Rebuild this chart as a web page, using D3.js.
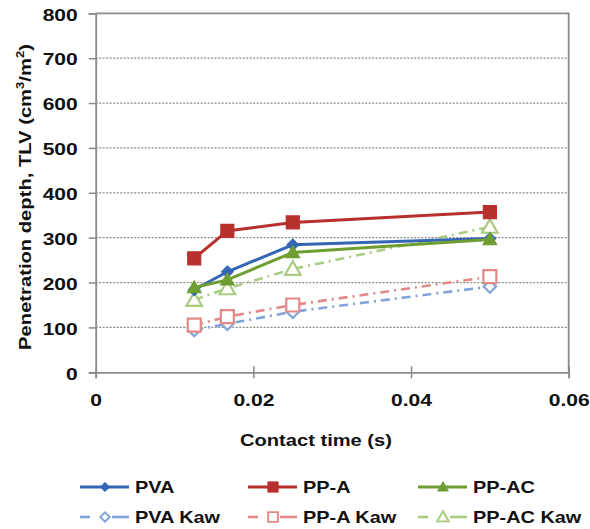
<!DOCTYPE html>
<html><head><meta charset="utf-8">
<script src="https://cdn.jsdelivr.net/npm/d3@7"></script>
<style>body{margin:0;background:#fff}svg{display:block}text{font-family:"Liberation Sans",Arial,sans-serif;font-weight:bold;fill:#111}</style>
</head><body><svg id="c" width="590" height="529"></svg>
<script>
const contactTime = [0.0125, 0.0167, 0.025, 0.05];
const PVA = [184, 224, 284, 298];
const PPA = [254, 315, 334, 357];
const PPAC = [189, 206, 267, 296];
const PVAKaw = [94, 108, 135, 191];
const PPAKaw = [105, 124, 150, 213];
const PPACKaw = [161, 187, 230, 324];
const xTicks = [0, 0.02, 0.04, 0.06];
const yTicks = [0, 100, 200, 300, 400, 500, 600, 700, 800];
const seriesNames = ["PVA", "PP-A", "PP-AC", "PVA Kaw", "PP-A Kaw", "PP-AC Kaw"];

const series = [
  {name: seriesNames[0], vals: PVA, color: "#3466B5", marker: "diamond", fill: true, dash: null},
  {name: seriesNames[1], vals: PPA, color: "#B8302E", marker: "square", fill: true, dash: null},
  {name: seriesNames[2], vals: PPAC, color: "#6E9E32", marker: "triangle", fill: true, dash: null},
  {name: seriesNames[3], vals: PVAKaw, color: "#7FA4DC", marker: "diamond", fill: false, dash: "9,5,2,5"},
  {name: seriesNames[4], vals: PPAKaw, color: "#E28A88", marker: "square", fill: false, dash: "9,5,2,5"},
  {name: seriesNames[5], vals: PPACKaw, color: "#A9CC80", marker: "triangle", fill: false, dash: "9,5,2,5"}
];

const svg = d3.select("#c");
const L = 95.7, R = 568.7, T = 13.3, B = 372.3;
const x = d3.scaleLinear().domain([0, 0.06]).range([L, R]);
const y = d3.scaleLinear().domain([0, 800]).range([B, T]);

// horizontally stretch a text node to a target width (about its anchor)
function stretch(textSel, target) {
  textSel.each(function() {
    const w = this.getComputedTextLength();
    const sx = target / w;
    const ax = +this.getAttribute("x") || 0;
    const ay = +this.getAttribute("y") || 0;
    d3.select(this).attr("transform", `translate(${ax},${ay}) scale(${sx},1) translate(${-ax},${-ay})`);
  });
}

// gridlines
svg.append("g").selectAll("line").data(yTicks.filter(d => d > 0 && d < 800)).join("line")
  .attr("x1", L).attr("x2", R).attr("y1", d => y(d)).attr("y2", d => y(d))
  .attr("stroke", "#8a8a8a").attr("stroke-width", 1.3).attr("stroke-dasharray", "2,1.5");

// plot border top & right
svg.append("path").attr("d", `M${L},${T}H${R}V${B}`).attr("fill", "none")
  .attr("stroke", "#8a8a8a").attr("stroke-width", 1.8);

// y axis
const yAxis = svg.append("g").attr("transform", `translate(${L},0)`)
  .call(d3.axisLeft(y).tickValues(yTicks).tickSize(7).tickPadding(11).tickFormat(d3.format("d")));
yAxis.select(".domain").attr("stroke", "#8a8a8a").attr("stroke-width", 1.8);
yAxis.selectAll(".tick line").attr("stroke", "#8a8a8a").attr("stroke-width", 1.5);
yAxis.selectAll("text").style("font-size", "16px").style("font-family", "Liberation Sans, Arial, sans-serif")
  .attr("fill", "#111").attr("dy", "0.42em")
  .each(function(d) { stretch(d3.select(this), String(d).length * 11.7); });

// x axis
const xAxis = svg.append("g").attr("transform", `translate(0,${B})`)
  .call(d3.axisBottom(x).tickValues(xTicks).tickSize(6).tickPadding(16).tickFormat(d => d === 0 ? "0" : d3.format(".2f")(d)));
xAxis.select(".domain").attr("stroke", "#8a8a8a").attr("stroke-width", 1.8);
xAxis.selectAll(".tick line").attr("stroke", "#8a8a8a").attr("stroke-width", 1.5).attr("y1", -6);
xAxis.selectAll("text").style("font-size", "16px").style("font-family", "Liberation Sans, Arial, sans-serif")
  .attr("fill", "#111")
  .each(function(d) { stretch(d3.select(this), d === 0 ? 11.7 : 41); });

// axis titles
const xt = svg.append("text").attr("x", 316).attr("y", 446).attr("text-anchor", "middle")
  .style("font-size", "17px").text("Contact time (s)");
stretch(xt, 152);

const ytg = svg.append("g").attr("transform", "translate(31,197) rotate(-90)");
const yt = ytg.append("text").attr("x", 0).attr("y", 0).attr("text-anchor", "middle").style("font-size", "17px");
yt.append("tspan").text("Penetration depth, TLV (cm");
yt.append("tspan").attr("dy", -7).style("font-size", "11px").text("3");
yt.append("tspan").attr("dy", 7).text("/m");
yt.append("tspan").attr("dy", -7).style("font-size", "11px").text("2");
yt.append("tspan").attr("dy", 7).text(")");
{
  const w = yt.node().getComputedTextLength();
  yt.attr("transform", `scale(${306 / w},1)`);
}

function markerPath(type, filled) {
  if (type === "diamond") { const s = filled ? 5.8 : 6.2; return `M0,${-s}L${s},0L0,${s}L${-s},0Z`; }
  if (type === "square") { const s = 6.5; return `M${-s},${-s}H${s}V${s}H${-s}Z`; }
  const s = filled ? 6.8 : 7.8;
  return `M0,${-s}L${s},${s*0.75}H${-s}Z`;
}

const line = d3.line().x(d => x(d[0])).y(d => y(d[1]));
const order = [3, 4, 5, 0, 2, 1];
order.forEach(i => {
  const s = series[i];
  const pts = contactTime.map((t, j) => [t, s.vals[j]]);
  svg.append("path").datum(pts).attr("d", line).attr("fill", "none")
    .attr("stroke", s.color).attr("stroke-width", s.fill ? 3 : 2.6)
    .attr("stroke-dasharray", s.dash);
  svg.append("g").selectAll("path").data(pts).join("path")
    .attr("transform", d => `translate(${x(d[0])},${y(d[1])})`)
    .attr("d", markerPath(s.marker, s.fill))
    .attr("fill", s.fill ? s.color : "#fff")
    .attr("stroke", s.color).attr("stroke-width", s.fill ? 1.2 : 2.2);
});

// legend
const legX = [80, 248, 418];
const legY = [487, 517];
series.forEach((s, i) => {
  const col = i % 3, row = Math.floor(i / 3);
  const g = svg.append("g").attr("transform", `translate(${legX[col]},${legY[row]})`);
  if (s.fill) {
    g.append("line").attr("x1", 0).attr("x2", 49).attr("stroke", s.color).attr("stroke-width", 3);
  } else {
    g.append("line").attr("x1", 0).attr("x2", 10).attr("stroke", s.color).attr("stroke-width", 2.6);
    g.append("line").attr("x1", 32).attr("x2", 49).attr("stroke", s.color).attr("stroke-width", 2.6);
  }
  g.append("path").attr("transform", `translate(25,0) scale(${s.fill ? 0.8 : 0.75})`).attr("d", markerPath(s.marker, s.fill))
    .attr("fill", s.fill ? s.color : "#fff").attr("stroke", s.color).attr("stroke-width", s.fill ? 1 : 2.6);
  const t = g.append("text").attr("x", 55).attr("y", 6).style("font-size", "17px").text(s.name);
  stretch(t, t.node().getComputedTextLength() * 1.17);
});
</script></body></html>
